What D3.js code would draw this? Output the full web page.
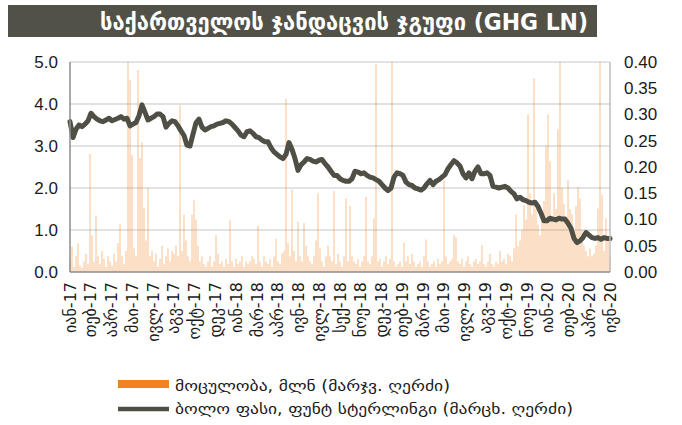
<!DOCTYPE html>
<html><head><meta charset="utf-8">
<script src="https://cdn.jsdelivr.net/npm/d3@7/dist/d3.min.js"></script>
<style>
html,body{margin:0;padding:0;background:#fff;}
svg{display:block;}
</style></head>
<body>
<svg id="chart" width="682" height="425"></svg>
<script>
const title = "საქართველოს ჯანდაცვის ჯგუფი (GHG LN)";
const xLabels = ["იან-17","თებ-17","აპრ-17","მაი-17","ივლ-17","აგვ-17","ოქტ-17","დეკ-17","იან-18","მარ-18","აპრ-18","ივნ-18","ივლ-18","სექ-18","ნოე-18","დეკ-18","თებ-19","მარ-19","მაი-19","ივლ-19","აგვ-19","ოქტ-19","ნოე-19","იან-20","თებ-20","აპრ-20","ივნ-20"];
const leftTicks = [0,1,2,3,4,5];
const rightTicks = [0,0.05,0.10,0.15,0.20,0.25,0.30,0.35,0.40];
const legendVolume = "მოცულობა, მლნ (მარჯვ. ღერძი)";
const legendPrice = "ბოლო ფასი, ფუნტ სტერლინგი (მარცხ. ღერძი)";

// closing price, GBP (left axis)
const price = [
3.58,3.20,3.40,3.50,3.46,3.52,3.60,3.78,3.70,3.64,
3.60,3.58,3.62,3.66,3.60,3.63,3.66,3.70,3.64,3.66,
3.48,3.52,3.56,3.72,3.98,3.80,3.62,3.66,3.70,3.76,
3.76,3.70,3.45,3.54,3.60,3.58,3.48,3.36,3.25,3.02,
3.00,3.28,3.55,3.64,3.45,3.38,3.42,3.46,3.48,3.52,
3.54,3.56,3.60,3.58,3.52,3.44,3.36,3.26,3.22,3.34,
3.36,3.30,3.22,3.20,3.14,3.10,3.10,2.96,2.86,2.80,
2.74,2.70,2.80,3.08,2.92,2.70,2.42,2.55,2.62,2.70,
2.68,2.64,2.62,2.66,2.68,2.58,2.50,2.40,2.30,2.30,
2.22,2.18,2.16,2.16,2.22,2.40,2.38,2.34,2.36,2.30,
2.26,2.24,2.20,2.16,2.08,2.00,1.94,2.00,2.26,2.36,
2.34,2.30,2.14,2.08,2.06,2.00,1.98,1.95,2.00,2.10,
2.18,2.08,2.16,2.20,2.26,2.32,2.46,2.56,2.65,2.60,
2.52,2.34,2.24,2.36,2.22,2.40,2.50,2.34,2.34,2.36,
2.30,2.04,2.02,2.00,2.02,2.04,2.00,1.92,1.86,1.74,
1.78,1.72,1.70,1.66,1.64,1.66,1.56,1.40,1.22,1.22,
1.28,1.26,1.24,1.28,1.26,1.26,1.16,1.04,0.80,0.70,
0.74,0.82,0.94,0.88,0.82,0.80,0.82,0.78,0.82,0.80,
0.80
];

// traded volume, mln (right axis)
const volume = [
0.020,0.048,0.010,0.030,0.055,0.012,0.008,0.020,0.035,0.015,
0.225,0.070,0.020,0.107,0.030,0.015,0.040,0.025,0.010,0.030,
0.020,0.012,0.035,0.020,0.055,0.091,0.030,0.015,0.040,0.400,
0.366,0.223,0.045,0.030,0.385,0.217,0.247,0.122,0.060,0.160,
0.030,0.040,0.020,0.035,0.010,0.025,0.050,0.015,0.030,0.045,
0.020,0.040,0.035,0.050,0.030,0.318,0.040,0.109,0.060,0.030,
0.020,0.109,0.137,0.100,0.050,0.020,0.030,0.015,0.010,0.020,
0.030,0.010,0.020,0.070,0.035,0.015,0.020,0.010,0.025,0.015,
0.099,0.020,0.010,0.025,0.015,0.020,0.030,0.010,0.020,0.015,
0.020,0.030,0.025,0.015,0.088,0.020,0.010,0.030,0.020,0.015,
0.025,0.010,0.030,0.063,0.020,0.015,0.035,0.040,0.330,0.055,
0.030,0.157,0.040,0.020,0.096,0.030,0.020,0.093,0.050,0.030,
0.020,0.015,0.030,0.060,0.150,0.045,0.020,0.010,0.030,0.050,
0.030,0.020,0.154,0.015,0.035,0.020,0.010,0.030,0.140,0.020,
0.126,0.030,0.020,0.015,0.025,0.010,0.020,0.030,0.143,0.020,
0.015,0.030,0.102,0.397,0.020,0.025,0.010,0.020,0.030,0.015,
0.025,0.400,0.020,0.010,0.015,0.020,0.010,0.056,0.020,0.030,
0.015,0.035,0.020,0.010,0.015,0.020,0.010,0.030,0.062,0.020,
0.010,0.015,0.020,0.010,0.025,0.015,0.020,0.175,0.030,0.015,
0.020,0.025,0.070,0.065,0.020,0.015,0.025,0.010,0.020,0.030,
0.015,0.010,0.020,0.025,0.015,0.020,0.051,0.015,0.010,0.020,
0.035,0.015,0.010,0.020,0.015,0.040,0.020,0.025,0.015,0.035,
0.030,0.020,0.045,0.109,0.050,0.060,0.080,0.128,0.100,0.300,
0.150,0.110,0.369,0.120,0.090,0.070,0.100,0.135,0.239,0.300,
0.211,0.100,0.150,0.120,0.272,0.400,0.160,0.130,0.090,0.175,
0.120,0.110,0.080,0.125,0.162,0.140,0.080,0.050,0.040,0.030,
0.045,0.030,0.035,0.050,0.121,0.400,0.147,0.040,0.102,0.060,
0.030
];

const svg = d3.select("#chart");
const L = 70, R = 610, T = 62, B = 272;

const yL = d3.scaleLinear().domain([0,5]).range([B,T]);
const yR = d3.scaleLinear().domain([0,0.4]).range([B,T]);
const xP = d3.scaleLinear().domain([0, price.length-1]).range([L,R]);
const xV = d3.scaleLinear().domain([0, volume.length-1]).range([L,R]);
const xC = d3.scalePoint().domain(xLabels).range([L,R]).padding(0);

// title bar
svg.append("rect").attr("x",8).attr("y",5).attr("width",589).attr("height",32).attr("fill","#525147");
svg.append("text").attr("x",100).attr("y",30)
  .attr("font-family","'Liberation Sans Narrow','DejaVu Sans Condensed','DejaVu Sans',sans-serif")
  .attr("font-size",23).attr("font-weight","bold").attr("fill","#fff")
  .attr("textLength",488).attr("lengthAdjust","spacingAndGlyphs")
  .text(title);

// gridlines
svg.append("g").selectAll("line").data(leftTicks.filter(d=>d>0)).join("line")
  .attr("x1",L).attr("x2",R).attr("y1",d=>yL(d)).attr("y2",d=>yL(d))
  .attr("stroke","#d9d9d9").attr("stroke-width",1.6);

// volume bars
svg.append("g").selectAll("rect").data(volume).join("rect")
  .attr("x",(d,i)=>xV(i)-0.5).attr("width",1)
  .attr("y",d=>yR(d)).attr("height",d=>B-yR(d))
  .attr("fill","#f58220").attr("fill-opacity",0.5);

// price line
svg.append("path").datum(price)
  .attr("d", d3.line().x((d,i)=>xP(i)).y(d=>yL(d)))
  .attr("fill","none").attr("stroke","#4f4f45").attr("stroke-width",5)
  .attr("stroke-linejoin","round").attr("stroke-linecap","round");

// frame lines
svg.append("line").attr("x1",L).attr("x2",L).attr("y1",T).attr("y2",B).attr("stroke","#8c8c8c").attr("stroke-width",1.5);
svg.append("line").attr("x1",R).attr("x2",R).attr("y1",T).attr("y2",B).attr("stroke","#bfbfbf").attr("stroke-width",1.5);
svg.append("line").attr("x1",L).attr("x2",R).attr("y1",B).attr("y2",B).attr("stroke","#8c8c8c").attr("stroke-width",1.5);

const axisFont = "'Liberation Sans',Arial,sans-serif";
// left axis
const gl = svg.append("g").attr("transform",`translate(${L-8},0)`)
  .call(d3.axisLeft(yL).tickValues(leftTicks).tickFormat(d3.format(".1f")).tickSize(0).tickPadding(4));
gl.select(".domain").remove();
gl.selectAll("text").attr("font-family",axisFont).attr("font-size",17).attr("fill","#1a1a1a");

// right axis
const gr = svg.append("g").attr("transform",`translate(${R+10},0)`)
  .call(d3.axisRight(yR).tickValues(rightTicks).tickFormat(d3.format(".2f")).tickSize(0).tickPadding(4));
gr.select(".domain").remove();
gr.selectAll("text").attr("font-family",axisFont).attr("font-size",17).attr("fill","#1a1a1a");

// x labels
svg.append("g").selectAll("text").data(xLabels).join("text")
  .attr("transform",d=>`translate(${xC(d)},${B+10}) rotate(-90)`)
  .attr("text-anchor","end").attr("dy","0.35em")
  .attr("font-family","'DejaVu Sans',sans-serif").attr("font-size",16).attr("fill","#1a1a1a")
  .text(d=>d);

// legend
svg.append("rect").attr("x",118).attr("y",380).attr("width",51).attr("height",8).attr("fill","#f58220");
svg.append("text").attr("x",175).attr("y",391).attr("font-family","'DejaVu Sans',sans-serif")
  .attr("font-size",15).attr("fill","#1a1a1a").attr("textLength",275).attr("lengthAdjust","spacingAndGlyphs")
  .text(legendVolume);
svg.append("line").attr("x1",118).attr("x2",169).attr("y1",409).attr("y2",409)
  .attr("stroke","#4f4f45").attr("stroke-width",4.5);
svg.append("text").attr("x",175).attr("y",414).attr("font-family","'DejaVu Sans',sans-serif")
  .attr("font-size",15).attr("fill","#1a1a1a").attr("textLength",398).attr("lengthAdjust","spacingAndGlyphs")
  .text(legendPrice);
</script>
</body></html>
